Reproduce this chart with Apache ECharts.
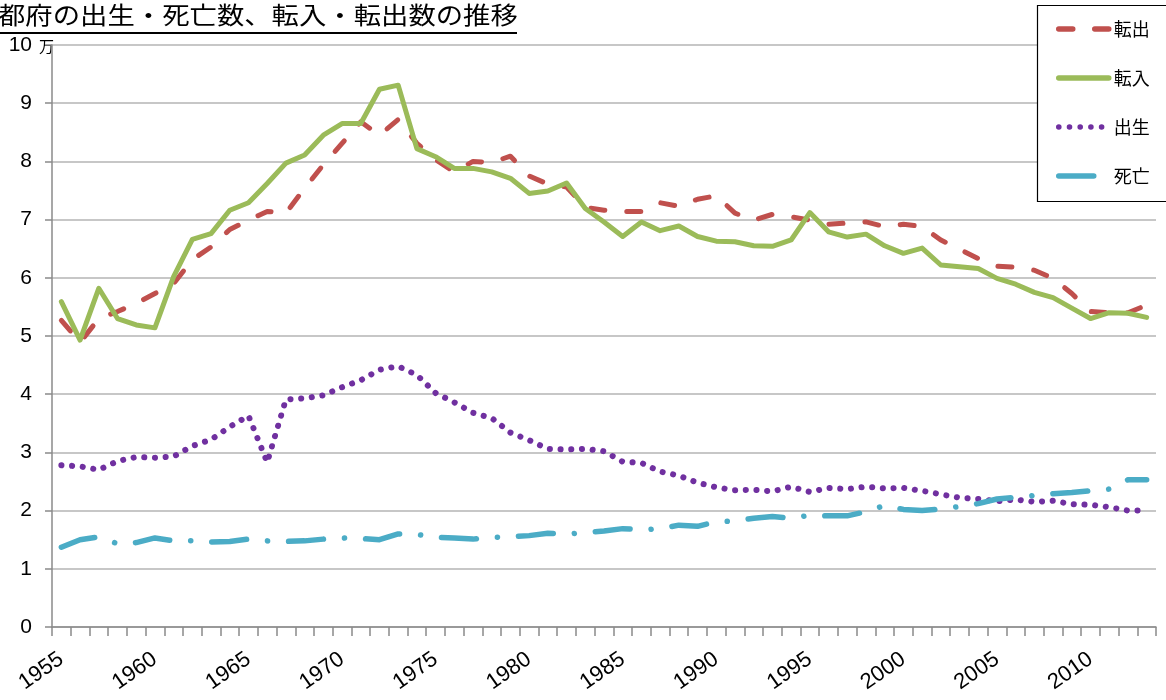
<!DOCTYPE html>
<html>
<head>
<meta charset="utf-8">
<script src="https://cdn.jsdelivr.net/npm/echarts@6/dist/echarts.min.js"></script>
<style>html,body{margin:0;padding:0;background:#fff;}#c{width:1166px;height:700px;}</style>
</head>
<body>
<div id="c"></div>
<script>
var titleText = '都府の出生・死亡数、転入・転出数の推移';
var unitText = '万';
var years = ['1955','1956','1957','1958','1959','1960','1961','1962','1963','1964',
  '1965','1966','1967','1968','1969','1970','1971','1972','1973','1974',
  '1975','1976','1977','1978','1979','1980','1981','1982','1983','1984',
  '1985','1986','1987','1988','1989','1990','1991','1992','1993','1994',
  '1995','1996','1997','1998','1999','2000','2001','2002','2003','2004',
  '2005','2006','2007','2008','2009','2010','2011','2012','2013'];
var seriesNames = ['転出','転入','出生','死亡'];
var tenshutsu = [5.27,4.89,5.30,5.42,5.56,5.73,5.90,6.31,6.53,6.83,
  6.99,7.14,7.11,7.54,7.94,8.31,8.68,8.45,8.72,8.31,
  8.03,7.82,8.00,7.98,8.09,7.75,7.61,7.56,7.21,7.16,
  7.14,7.14,7.29,7.23,7.35,7.41,7.11,6.99,7.09,7.05,
  6.99,6.92,6.94,6.96,6.88,6.92,6.88,6.65,6.49,6.33,
  6.20,6.18,6.13,5.99,5.73,5.42,5.40,5.40,5.53];
var tennyu = [5.59,4.93,5.82,5.30,5.19,5.14,6.02,6.66,6.76,7.16,
  7.29,7.62,7.97,8.11,8.45,8.65,8.65,9.24,9.31,8.22,
  8.08,7.88,7.88,7.82,7.71,7.45,7.49,7.63,7.19,6.96,
  6.71,6.96,6.81,6.89,6.71,6.63,6.62,6.55,6.54,6.65,
  7.12,6.79,6.70,6.75,6.55,6.42,6.51,6.22,6.19,6.16,
  5.99,5.89,5.75,5.66,5.48,5.30,5.40,5.39,5.32];
var shussei = [2.78,2.76,2.70,2.85,2.92,2.91,2.93,3.11,3.22,3.44,
  3.63,2.83,3.91,3.93,3.98,4.12,4.24,4.42,4.48,4.33,
  4.02,3.86,3.68,3.59,3.34,3.21,3.06,3.05,3.06,3.02,
  2.84,2.82,2.67,2.60,2.48,2.40,2.35,2.36,2.33,2.41,
  2.32,2.39,2.37,2.41,2.38,2.39,2.34,2.28,2.22,2.20,
  2.16,2.19,2.15,2.17,2.11,2.10,2.06,2.00,2.00];
var shibou = [1.37,1.50,1.55,1.43,1.45,1.53,1.48,1.48,1.46,1.47,
  1.51,1.48,1.47,1.48,1.51,1.53,1.52,1.50,1.60,1.59,
  1.54,1.53,1.51,1.54,1.55,1.57,1.61,1.60,1.62,1.65,
  1.69,1.67,1.69,1.75,1.73,1.81,1.82,1.87,1.90,1.87,
  1.92,1.91,1.91,1.98,2.09,2.02,2.00,2.03,2.07,2.12,
  2.20,2.23,2.26,2.29,2.31,2.34,2.37,2.53,2.53];

var numFont = '"Liberation Sans", Arial, sans-serif';
var jpFont = '"Noto Sans CJK JP", sans-serif';

var chart = echarts.init(document.getElementById('c'), null, {renderer: 'canvas'});
function lineSeries(name, data, color, dash, width) {
  return {
    name: name, type: 'line', data: data, symbol: 'none', showSymbol: false,
    smooth: false, animation: false,
    lineStyle: {color: color, width: width, type: dash, cap: 'round', join: 'round'},
    itemStyle: {color: color}
  };
}
chart.setOption({
  animation: false,
  backgroundColor: '#fff',
  grid: {left: 52, right: 10, top: 45, bottom: 73, containLabel: false},
  xAxis: {
    type: 'category', data: years, boundaryGap: true,
    axisLine: {show: true, lineStyle: {color: '#8a8a8a', width: 1.5}},
    axisTick: {show: true, interval: 0, length: 9, lineStyle: {color: '#8a8a8a', width: 1.5}},
    axisLabel: {
      interval: function (i) { return i % 5 === 0; },
      rotate: 35, margin: 30, color: '#000', fontSize: 22, fontFamily: numFont
    },
    splitLine: {show: false}
  },
  yAxis: {
    type: 'value', min: 0, max: 10, interval: 1,
    axisLine: {show: true, lineStyle: {color: '#8a8a8a', width: 1.5}},
    axisTick: {show: true, length: 7, lineStyle: {color: '#8a8a8a', width: 1.5}},
    axisLabel: {margin: 20, color: '#000', fontSize: 21, fontFamily: numFont},
    splitLine: {show: true, lineStyle: {color: '#b4b4b4', width: 1.5}}
  },
  legend: {
    orient: 'vertical', left: 1037, top: 5, z: 10,
    data: seriesNames,
    itemWidth: 50, itemHeight: 18, itemGap: 31,
    padding: [15, 0, 15, 19],
    borderWidth: 0, backgroundColor: 'transparent',
    itemStyle: {color: 'rgba(0,0,0,0)', borderWidth: 0, borderColor: 'rgba(0,0,0,0)'},
    lineStyle: {width: 5.5, cap: 'round'},
    textStyle: {fontSize: 18, color: '#000', fontFamily: jpFont},
    selectedMode: false
  },
  graphic: [
    {type: 'rect', z: 5, shape: {x: 1037.5, y: 5.5, width: 200, height: 196},
      style: {fill: '#fff', stroke: '#000', lineWidth: 1.2}},
    {type: 'text', left: -2, top: 3, scaleX: 1.14,
      style: {text: titleText, font: '24px ' + jpFont, fill: '#000'}},
    {type: 'line', shape: {x1: 0, y1: 33, x2: 517, y2: 33}, style: {stroke: '#000', lineWidth: 2}},
    {type: 'text', left: 39, top: 39, style: {text: unitText, font: '15px ' + jpFont, fill: '#000'}}
  ],
  series: [
    lineSeries(seriesNames[0], tenshutsu, '#C0504D', [14, 22], 5),
    lineSeries(seriesNames[1], tennyu, '#9BBB59', 'solid', 5),
    lineSeries(seriesNames[2], shussei, '#7030A0', [0.1, 10.6], 6),
    lineSeries(seriesNames[3], shibou, '#4BACC6', [35, 21, 0.1, 21], 5.5)
  ]
});
</script>
</body>
</html>
